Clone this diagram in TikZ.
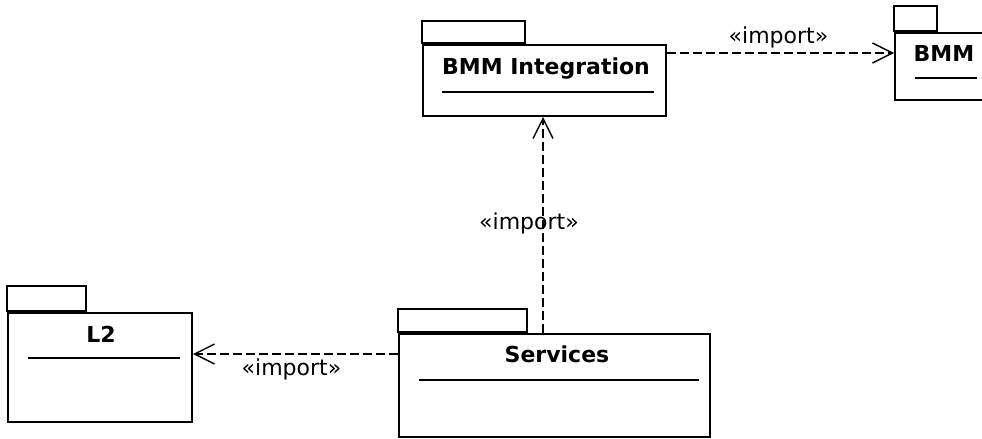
\documentclass[tikz,border=0pt]{standalone}
\usepackage{fontspec}
\setmainfont{DejaVu Sans}
\usetikzlibrary{arrows.meta, calc}

\begin{document}
\begin{tikzpicture}[x=0.5pt, y=-0.5pt,
  pkg/.style={draw, line width=1pt, inner sep=0pt, fill=white},
  pkgname/.style={font=\bfseries\fontsize{11}{13}\selectfont, inner sep=0pt},
  dep/.style={dash pattern=on 4.5pt off 2pt, line width=0.7pt, -{Straight Barb[length=10pt,width=10pt]}},
  stereo/.style={font=\fontsize{11}{13}\selectfont, inner sep=1pt}]
  \useasboundingbox (0,0) rectangle (982,439);
  \clip (0,0) rectangle (982,439);

  % packages
  \node[pkg, minimum width=121.5pt, minimum height=35.5pt] (bmmint) at (544.5,80.5) {};
  \draw[line width=1pt] (bmmint.north west) -- ++(0,-23) -- ++(103,0) -- ++(0,23);
  \draw[line width=1.6pt] (bmmint.north west) -- ++(103,0);
  \node[pkgname] (bmmint-t) at (546,69) {BMM Integration};
  \draw[line width=0.8pt] (442,92) -- (654,92);

  \node[pkg, minimum width=52.5pt, minimum height=33.5pt] (bmm) at (947.5,66.5) {};
  \draw[line width=1pt] (bmm.north west) -- ++(0,-26) -- ++(43,0) -- ++(0,26);
  \draw[line width=1.6pt] (bmm.north west) -- ++(43,0);
  \node[pkgname] (bmm-t) at (944,53) {BMM};
  \draw[line width=0.8pt] (915,78) -- (977,78);

  \node[pkg, minimum width=92pt, minimum height=54.5pt] (ltwo) at (100,367.5) {};
  \draw[line width=1pt] (ltwo.north west) -- ++(0,-26) -- ++(79,0) -- ++(0,26);
  \draw[line width=1.6pt] (ltwo.north west) -- ++(79,0);
  \node[pkgname] (ltwo-t) at (101,334) {L2};
  \draw[line width=0.8pt] (28,358) -- (180,358);

  \node[pkg, minimum width=155.5pt, minimum height=51.5pt] (services) at (554.5,385.5) {};
  \draw[line width=1pt] (services.north west) -- ++(0,-24) -- ++(129,0) -- ++(0,24);
  \draw[line width=1.6pt] (services.north west) -- ++(129,0);
  \node[pkgname] (services-t) at (557,354) {Services};
  \draw[line width=0.8pt] (419,380) -- (699,380);

  % dependencies
  \draw[dep] (bmmint.east |- 0,53) -- node[stereo, above=1pt, xshift=-1pt] {«import»} (bmm.west |- 0,53);
  \node[stereo] (imp-v) at (529,223) {«import»};
  \draw[dep] (services.north -| 543,0) -- (bmmint.south -| 543,0);
  \draw[dep] (services.west |- 0,354) -- node[stereo, below=1pt, xshift=-2pt] {«import»} (ltwo.east |- 0,354);
\end{tikzpicture}
\end{document}
